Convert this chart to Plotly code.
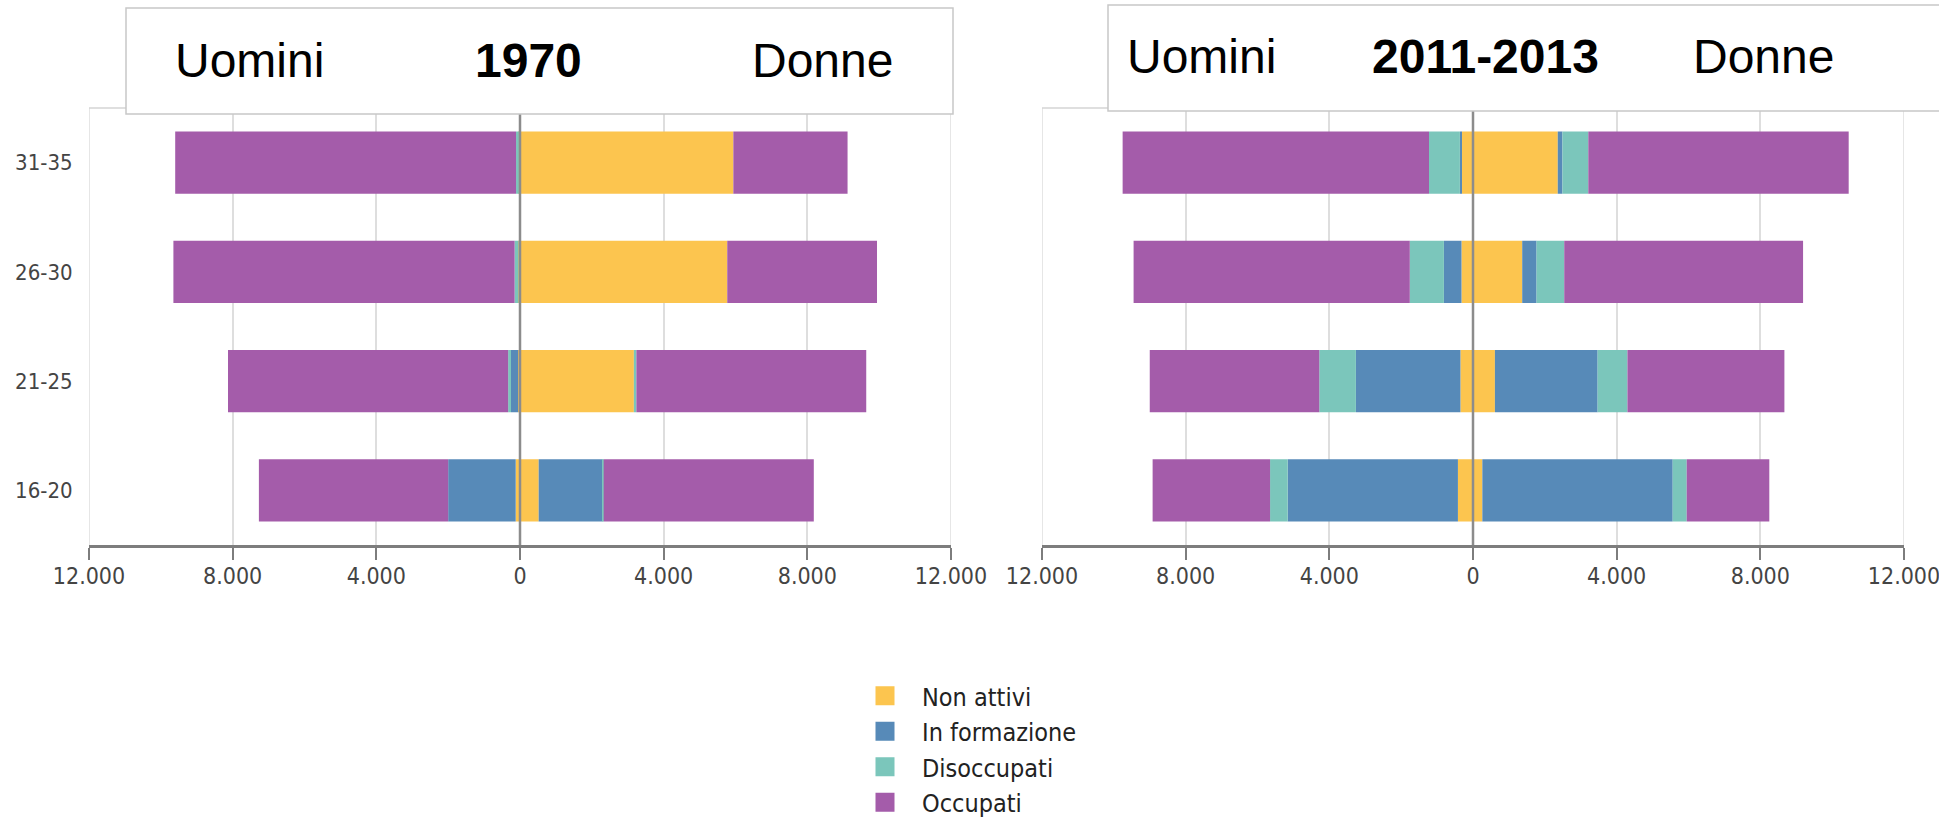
import plotly.graph_objects as go

# ---------------- data ----------------
age_groups = ["16-20", "21-25", "26-30", "31-35"]
categories = ["Non attivi", "In formazione", "Disoccupati", "Occupati"]
colors = ["#FCC54F", "#578AB8", "#7BC6BB", "#A45CAA"]

# 1970 - men (Uomini), shown to the left
m1970_non_attivi = [120, 50, 40, 30]
m1970_formazione = [1880, 200, 0, 0]
m1970_disoccupati = [0, 80, 110, 80]
m1970_occupati = [5270, 7800, 9500, 9490]
# 1970 - women (Donne), shown to the right
w1970_non_attivi = [520, 3170, 5770, 5940]
w1970_formazione = [1780, 0, 0, 0]
w1970_disoccupati = [30, 70, 0, 0]
w1970_occupati = [5850, 6400, 4170, 3180]

# 2011-2013 - men
m2011_non_attivi = [420, 350, 320, 310]
m2011_formazione = [4740, 2910, 490, 55]
m2011_disoccupati = [490, 1020, 950, 860]
m2011_occupati = [3270, 4720, 7690, 8530]
# 2011-2013 - women
w2011_non_attivi = [260, 610, 1370, 2360]
w2011_formazione = [5300, 2860, 400, 130]
w2011_disoccupati = [390, 830, 770, 720]
w2011_occupati = [2300, 4370, 6650, 7250]

tick_values = [-12000, -8000, -4000, 0, 4000, 8000, 12000]
tick_labels = ["12.000", "8.000", "4.000", "0", "4.000", "8.000", "12.000"]

panel_titles = [("Uomini", "1970", "Donne"), ("Uomini", "2011-2013", "Donne")]

# ---------------- figure ----------------
W, H = 1939, 823


def px_x(p):
    return p / W


def px_y(p):
    return (H - p) / H


men = {
    "x": [m1970_non_attivi, m1970_formazione, m1970_disoccupati, m1970_occupati],
    "x2": [m2011_non_attivi, m2011_formazione, m2011_disoccupati, m2011_occupati],
}
women = {
    "x": [w1970_non_attivi, w1970_formazione, w1970_disoccupati, w1970_occupati],
    "x2": [w2011_non_attivi, w2011_formazione, w2011_disoccupati, w2011_occupati],
}

fig = go.Figure()
for xa in ["x", "x2"]:
    for i, cat in enumerate(categories):
        fig.add_trace(go.Bar(
            y=age_groups, x=[-v for v in men[xa][i]], orientation="h",
            xaxis=xa, yaxis="y" if xa == "x" else "y2",
            marker=dict(color=colors[i], line=dict(width=0)),
            name=cat, showlegend=False,
            customdata=men[xa][i],
            hovertemplate="Uomini %{y}<br>" + cat + ": %{customdata}<extra></extra>",
        ))
        fig.add_trace(go.Bar(
            y=age_groups, x=women[xa][i], orientation="h",
            xaxis=xa, yaxis="y" if xa == "x" else "y2",
            marker=dict(color=colors[i], line=dict(width=0)),
            name=cat, showlegend=False,
            hovertemplate="Donne %{y}<br>" + cat + ": %{x}<extra></extra>",
        ))

# legend entries
for i, cat in enumerate(categories):
    fig.add_trace(go.Scatter(
        x=[None], y=[None], mode="markers", name=cat,
        marker=dict(symbol="square", size=16, color=colors[i],
                    line=dict(color=colors[i], width=3)),
        xaxis="x", yaxis="y", showlegend=True,
    ))

narrow = "DejaVu Sans Condensed, Liberation Sans Narrow, sans-serif"
ydom = [px_y(545), px_y(108)]
xdoms = {"x": [px_x(89), px_x(951)], "x2": [px_x(1042), px_x(1904)]}

xaxis_common = dict(
    range=[-12000, 12000], tickvals=tick_values, ticktext=tick_labels,
    showgrid=True, gridcolor="#dedede", gridwidth=1.5, zeroline=False,
    showline=True, linecolor="#7d7d7d", linewidth=2.5,
    ticks="outside", ticklen=12, tickwidth=1.5, tickcolor="#7d7d7d",
    tickfont=dict(family=narrow, size=23, color="#444444"),
    ticklabelstandoff=-3, ticklabeloverflow="allow",
    fixedrange=True, automargin=False,
)
yaxis_common = dict(
    type="category", categoryorder="array", categoryarray=age_groups,
    range=[-0.5, 3.5], domain=ydom, showgrid=False, zeroline=False, showline=False,
    tickfont=dict(family=narrow, size=22, color="#444444"), fixedrange=True,
    automargin=False,
)

fig.update_layout(
    width=W, height=H, autosize=False,
    margin=dict(l=0, r=0, t=0, b=0, autoexpand=False),
    paper_bgcolor="white", plot_bgcolor="white",
    barmode="relative", bargap=0.43,
    xaxis=dict(domain=xdoms["x"], anchor="y", **xaxis_common),
    xaxis2=dict(domain=xdoms["x2"], anchor="y2", **xaxis_common),
    yaxis=dict(anchor="x", ticks="outside", ticklen=11, tickcolor="rgba(0,0,0,0)", **yaxis_common),
    yaxis2=dict(anchor="x2", showticklabels=False, **yaxis_common),
    legend=dict(
        x=px_x(848), y=px_y(673), xanchor="left", yanchor="top",
        traceorder="normal", itemwidth=64,
        font=dict(family=narrow, size=25, color="#222222"),
        bgcolor="rgba(0,0,0,0)",
    ),
    showlegend=True,
)

shapes = []
for xa, ya in [("x", "y"), ("x2", "y2")]:
    # edge gridlines (frame sides)
    for xv in (tick_values[0], tick_values[-1]):
        shapes.append(dict(type="line", xref=xa, yref=ya + " domain",
                           x0=xv, x1=xv, y0=0, y1=1,
                           line=dict(color="#dedede", width=1.5), layer="below"))
    # top frame line
    shapes.append(dict(type="line", xref=xa + " domain", yref="paper",
                       x0=0, x1=1, y0=ydom[1], y1=ydom[1],
                       line=dict(color="#d4d4d4", width=1.5), layer="above"))
    # zero line
    shapes.append(dict(type="line", xref=xa, yref=ya + " domain",
                       x0=0, x1=0, y0=0, y1=1,
                       line=dict(color="#8c8c8c", width=2.5), layer="above"))

# title boxes
boxes = [(126, 953, 8, 114), (1108, 1960, 5, 111)]
for (x0, x1, y0, y1) in boxes:
    shapes.append(dict(type="rect", xref="paper", yref="paper",
                       x0=px_x(x0), x1=px_x(x1), y0=px_y(y1), y1=px_y(y0),
                       fillcolor="white", line=dict(color="#c8c8c8", width=1.5),
                       layer="above"))
fig.update_layout(shapes=shapes)

title_pos = [((250, 528, 822), 60), ((1201, 1485, 1763), 57)]
annotations = []
for (labels, ((xl, xc, xr), yy)) in zip(panel_titles, title_pos):
    for txt, xp, bold in zip(labels, (xl, xc, xr), (False, True, False)):
        annotations.append(dict(
            text=("<b>%s</b>" % txt) if bold else txt,
            x=px_x(xp), y=px_y(yy), xref="paper", yref="paper",
            xanchor="center", yanchor="middle", showarrow=False,
            font=dict(family="Liberation Sans, Arial, sans-serif", size=48, color="black"),
        ))
fig.update_layout(annotations=annotations)

fig.write_html(
    "out.html",
    config={"displayModeBar": False},
    post_script="document.body.style.margin='0';document.body.style.overflow='hidden';",
)
